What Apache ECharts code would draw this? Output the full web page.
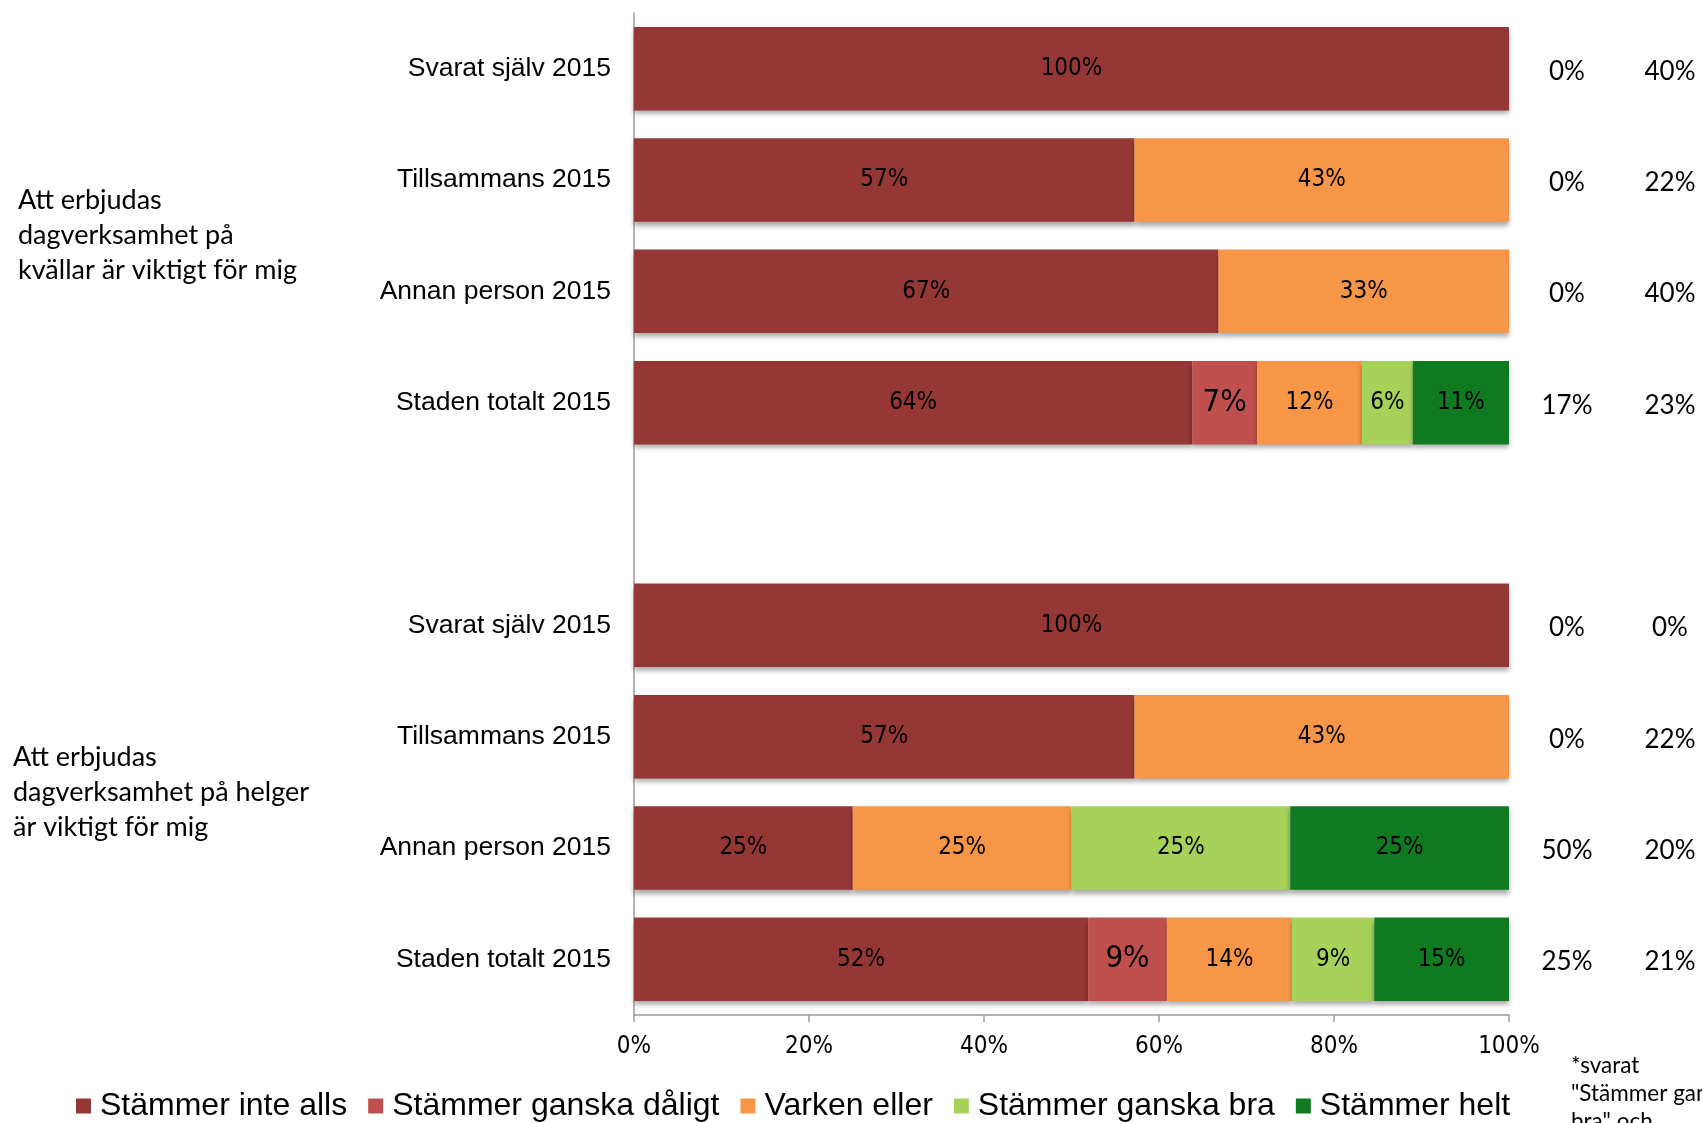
<!DOCTYPE html>
<html>
<head>
<meta charset="utf-8">
<script src="https://cdn.jsdelivr.net/npm/echarts@6/dist/echarts.min.js"></script>
<style>
html,body{margin:0;padding:0;background:#fff;}
#chart{width:1702px;height:1123px;}
</style>
</head>
<body>
<div id="chart"></div>
<script>
// ---- data ----
const categories = ['Svarat själv 2015','Tillsammans 2015','Annan person 2015','Staden totalt 2015','',
                    'Svarat själv 2015','Tillsammans 2015','Annan person 2015','Staden totalt 2015'];
const seriesNames = ['Stämmer inte alls','Stämmer ganska dåligt','Varken eller','Stämmer ganska bra','Stämmer helt'];
const inteAlls   = [100, 57.2, 66.8, 63.8, null, 100, 57.2, 25, 51.9];
const gDaligt    = [0,   0,    0,    7.4,  null, 0,   0,    0,  9.0];
const varken     = [0,   42.8, 33.2, 12.0, null, 0,   42.8, 25, 14.3];
const gBra       = [0,   0,    0,    5.8,  null, 0,   0,    25, 9.4];
const helt       = [0,   0,    0,    11.0, null, 0,   0,    25, 15.4];
const rightCol1  = ['0%','0%','0%','17%','','0%','0%','50%','25%'];
const rightCol2  = ['40%','22%','40%','23%','','0%','22%','20%','21%'];
const groupLabels = ['Att erbjudas\ndagverksamhet på\nkvällar är viktigt för mig',
                     'Att erbjudas\ndagverksamhet på helger\när viktigt för mig'];
const groupRows = [[1,2],[6,7]];
const footnote = '*svarat\n"Stämmer ganska\nbra" och';
const xTicks = [0,20,40,60,80,100];

const colors = ['#953735','#C0504D','#F79646','#A6D25A','#0F7A1F'];
const values = [inteAlls, gDaligt, varken, gBra, helt];

const narrow = '"Liberation Sans Narrow","DejaVu Sans Condensed","Liberation Sans",Arial,sans-serif';
const chart = echarts.init(document.getElementById('chart'), null, {renderer:'canvas'});

const series = values.map((arr, i) => ({
  name: seriesNames[i],
  type: 'bar',
  stack: 'total',
  barCategoryGap: '25%',
  data: arr,
  itemStyle: {
    color: colors[i],
    shadowColor: 'rgba(0,0,0,0.35)',
    shadowBlur: 5,
    shadowOffsetY: 4
  },
  label: {
    show: true,
    position: 'inside',
    color: '#000',
    fontFamily: narrow,
    fontSize: i === 1 ? 31 : 24,
    formatter: p => (p.value && p.value > 0) ? Math.round(p.value) + '%' : ''
  },
  emphasis: {disabled: true}
}));

const rightLabel = (col) => ({
  margin: 0, align: 'center',
  formatter: (v, i) => col[i] ? '{a|' + col[i] + '}' : '',
  rich: {
    a: {fontFamily: 'Lato,"Open Sans",sans-serif', fontSize: 26, color: '#000', padding: [5,0,0,0]}
  }
});

const option = {
  animation: false,
  backgroundColor: '#fff',
  grid: {left: 634, right: 193, top: 13, bottom: 108, containLabel: false},
  legend: {
    data: seriesNames,
    left: 76,
    top: 1090,
    padding: 0,
    icon: 'rect',
    itemWidth: 15,
    itemHeight: 15,
    itemGap: 21,
    textStyle: {fontFamily: '"Liberation Sans",Arial,sans-serif', fontSize: 32, color: '#000', padding: [0,0,0,4]}
  },
  xAxis: {
    type: 'value',
    min: 0, max: 100, interval: 20,
    axisLine: {show: true, lineStyle: {color: '#9a9a9a', width: 1.5}},
    axisTick: {show: true, length: 7, lineStyle: {color: '#9a9a9a', width: 1.5}},
    splitLine: {show: false},
    axisLabel: {
      margin: 20,
      fontFamily: narrow, fontSize: 24, color: '#000',
      formatter: v => xTicks.includes(v) ? v + '%' : ''
    }
  },
  yAxis: [
    {
      type: 'category',
      data: categories,
      inverse: true,
      axisLine: {show: true, lineStyle: {color: '#9a9a9a', width: 1.5}},
      axisTick: {show: false},
      axisLabel: {
        margin: 23,
        fontFamily: '"Liberation Sans",Arial,sans-serif',
        fontSize: 26.5,
        color: '#000'
      }
    },
    {
      type: 'category',
      data: categories,
      inverse: true,
      position: 'right',
      offset: 58,
      axisLine: {show: false},
      axisTick: {show: false},
      axisLabel: rightLabel(rightCol1)
    },
    {
      type: 'category',
      data: categories,
      inverse: true,
      position: 'right',
      offset: 161,
      axisLine: {show: false},
      axisTick: {show: false},
      axisLabel: rightLabel(rightCol2)
    }
  ],
  series: series
};
chart.setOption(option);

// group labels and footnote positioned via the category scale
const graphics = groupLabels.map((txt, gi) => {
  const [a, b] = groupRows[gi];
  const ya = chart.convertToPixel({yAxisIndex: 0}, a);
  const yb = chart.convertToPixel({yAxisIndex: 0}, b);
  return {
    type: 'text',
    left: gi === 0 ? 18 : 13,
    top: (ya + yb) / 2 - 53,
    style: {
      text: txt,
      fontFamily: 'Lato,"Open Sans",sans-serif',
      fontSize: 27,
      lineHeight: 35,
      fill: '#000'
    }
  };
});
graphics.push({
  type: 'text',
  left: 1571,
  top: 1052,
  style: {
    text: footnote,
    fontFamily: 'Lato,"Open Sans",sans-serif',
    fontSize: 22.5,
    lineHeight: 28,
    fill: '#000'
  }
});
chart.setOption({graphic: graphics});
</script>
</body>
</html>
